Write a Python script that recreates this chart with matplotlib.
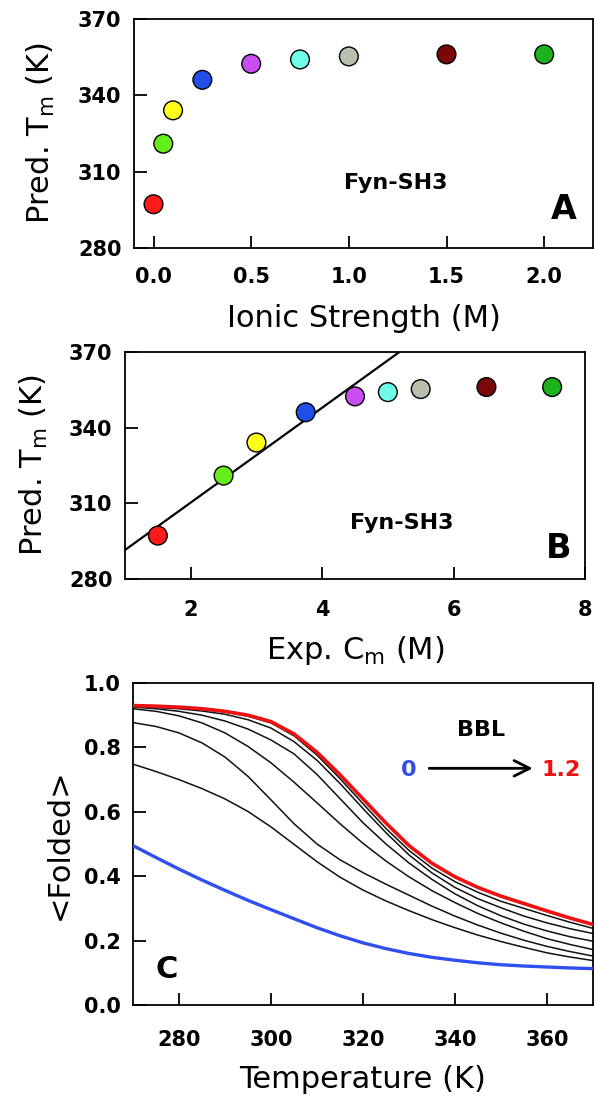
import numpy as np
import matplotlib
matplotlib.use("Agg")
import matplotlib.pyplot as plt

plt.rcParams['font.family'] = ['DejaVu Sans']
plt.rcParams['mathtext.default'] = 'regular'

# Panel A / B data
ionic_strength = [0.0, 0.05, 0.1, 0.25, 0.5, 0.75, 1.0, 1.5, 2.0]
exp_cm = [1.5, 2.5, 3.0, 3.75, 4.5, 5.0, 5.5, 6.5, 7.5]
pred_tm = [297.2, 321.0, 334.1, 346.1, 352.4, 354.1, 355.3, 356.1, 356.1]
point_colors = ['#ff1a1a', '#66ee1a', '#ffff1a', '#1f4fe8', '#c84ef0',
                '#6ffce8', '#b8bfae', '#7a0808', '#1fb21f']
fit_slope = 18.8
fit_intercept = 272.7
fit_x = [1.0, 5.3]

# Panel C data (BBL from 0 to 1.2)
temperature = [270, 275, 280, 285, 290, 295, 300, 305, 310, 315, 320,
               325, 330, 335, 340, 345, 350, 355, 360, 365, 370]
folded_blue = [.495, .458, .422, .388, .356, .325, .296, .268, .240, .215, .193,
               .175, .160, .148, .139, .131, .125, .121, .118, .115, .113]
folded_black = [
    [.748, .725, .700, .672, .640, .601, .553, .499, .445, .397, .357,
     .323, .293, .265, .240, .217, .197, .179, .162, .149, .138],
    [.877, .865, .845, .814, .770, .710, .637, .563, .500, .451, .411,
     .375, .341, .307, .276, .248, .223, .201, .182, .166, .152],
    [.920, .912, .898, .876, .845, .803, .752, .692, .628, .563, .502,
     .447, .398, .355, .318, .284, .255, .229, .206, .188, .172],
    [.925, .920, .912, .900, .882, .857, .823, .780, .716, .641, .566,
     .500, .441, .390, .345, .308, .277, .251, .230, .212, .198],
    [.927, .924, .920, .913, .903, .886, .860, .818, .760, .688, .610,
     .535, .466, .410, .365, .330, .302, .276, .255, .237, .222],
    [.929, .927, .924, .918, .910, .897, .876, .836, .776, .703, .625,
     .548, .480, .425, .383, .350, .322, .300, .278, .257, .238],
]
folded_red = [.930, .928, .925, .920, .912, .900, .880, .842, .785, .715, .640,
              .565, .495, .440, .398, .365, .338, .315, .292, .270, .250]

fig = plt.figure(figsize=(5.94, 10.96), dpi=100)
axA = fig.add_axes([134 / 594, 1 - 248 / 1096, 459 / 594, 229 / 1096])
axB = fig.add_axes([125 / 594, 1 - 579 / 1096, 460 / 594, 227 / 1096])
axC = fig.add_axes([133 / 594, 1 - 1005 / 1096, 460 / 594, 322 / 1096])

label_size = 22
tick_size = 15


def style_axes(ax, xpad):
    for s in ax.spines.values():
        s.set_linewidth(1.3)
    ax.tick_params(direction='in', length=9, width=1.3, top=False, right=False,
                   labelsize=tick_size)
    ax.tick_params(axis='x', pad=xpad)
    ax.tick_params(axis='y', pad=9)
    for lab in ax.get_xticklabels() + ax.get_yticklabels():
        lab.set_fontweight('bold')


# Panel A
axA.scatter(ionic_strength, pred_tm, s=13.5 ** 2, c=point_colors,
            edgecolors='black', linewidths=1.0, zorder=3)
axA.set_xlim(-0.1, 2.25)
axA.set_ylim(280, 370)
axA.set_xticks([0.0, 0.5, 1.0, 1.5, 2.0])
axA.set_xticklabels(['0.0', '0.5', '1.0', '1.5', '2.0'])
axA.set_yticks([280, 310, 340, 370])
axA.set_xlabel('Ionic Strength (M)', fontsize=label_size, labelpad=12)
axA.set_ylabel('Pred. T$_m$ (K)', fontsize=label_size, labelpad=15)
axA.text(1.24, 305.6, 'Fyn-SH3', fontsize=16, fontweight='bold', ha='center', va='center')
axA.text(2.1, 295, 'A', fontsize=24, fontweight='bold', ha='center', va='center')
style_axes(axA, 14)

# Panel B
fx = np.array(fit_x)
axB.plot(fx, fit_intercept + fit_slope * fx, color='black', lw=1.6, zorder=2)
axB.scatter(exp_cm, pred_tm, s=13.5 ** 2, c=point_colors,
            edgecolors='black', linewidths=1.0, zorder=3)
axB.set_xlim(1, 8)
axB.set_ylim(280, 370)
axB.set_xticks([2, 4, 6, 8])
axB.set_yticks([280, 310, 340, 370])
axB.set_xlabel('Exp. C$_m$ (M)', fontsize=label_size, labelpad=10.5)
axB.set_ylabel('Pred. T$_m$ (K)', fontsize=label_size, labelpad=14)
axB.text(5.21, 302.3, 'Fyn-SH3', fontsize=16, fontweight='bold', ha='center', va='center')
axB.text(7.6, 292, 'B', fontsize=24, fontweight='bold', ha='center', va='center')
style_axes(axB, 15)

# Panel C
axC.plot(temperature, folded_blue, color='#2f4ff0', lw=2.4, zorder=3)
for curve in folded_black:
    axC.plot(temperature, curve, color='#111111', lw=1.1, zorder=2)
axC.plot(temperature, folded_red, color='#ee1111', lw=2.6, zorder=4)
axC.set_xlim(270, 370)
axC.set_ylim(0, 1.0)
axC.set_xticks([280, 300, 320, 340, 360])
axC.set_yticks([0.0, 0.2, 0.4, 0.6, 0.8, 1.0])
axC.set_yticklabels(['0.0', '0.2', '0.4', '0.6', '0.8', '1.0'])
axC.set_xlabel('Temperature (K)', fontsize=label_size, labelpad=10.5)
axC.set_ylabel('<Folded>', fontsize=label_size, labelpad=7)
axC.text(345.6, 0.854, 'BBL', fontsize=16, fontweight='bold', ha='center', va='center')
axC.text(330, 0.73, '0', fontsize=16, fontweight='bold', color='#2f4ff0', ha='center', va='center')
axC.text(363, 0.73, '1.2', fontsize=16, fontweight='bold', color='#ee1111', ha='center', va='center')
axC.annotate('', xy=(357.5, 0.735), xytext=(333.8, 0.735),
             arrowprops=dict(arrowstyle='->', lw=2.0, color='black', mutation_scale=28))
axC.text(277.3, 0.11, 'C', fontsize=22, fontweight='bold', ha='center', va='center')
style_axes(axC, 18)

fig.savefig('out.png', dpi=100)
